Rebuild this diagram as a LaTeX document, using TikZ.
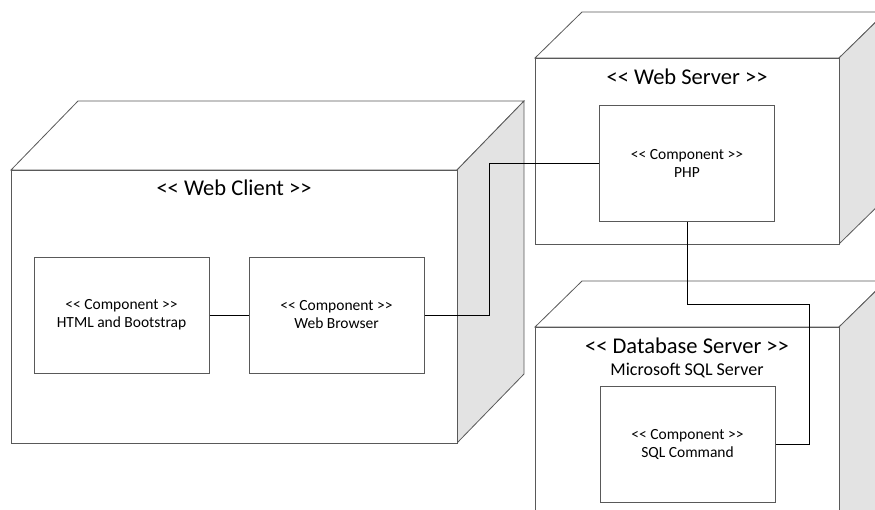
\documentclass[tikz,border=0pt]{standalone}
\usepackage{fontspec}
\setmainfont{Carlito}
\usetikzlibrary{positioning}
% stereotype brackets, kept apart so they stay two signs
\newcommand\stereo[1]{<\kern0pt< #1 >\kern0pt>}
\tikzset{
  face/.style={draw=black!65, line width=0.8pt, fill=white},
  sideface/.style={draw=black!65, line width=0.8pt, fill=black!11},
  comp/.style={draw=black!65, line width=1pt, fill=white, inner sep=0pt,
    minimum width=175pt, minimum height=116pt, align=center,
    font=\fontsize{15.5}{18}\selectfont},
  title/.style={font=\fontsize{22.5}{24}\selectfont},
  link/.style={draw=black, line width=0.8pt},
}

\begin{document}
\begin{tikzpicture}[x=1pt,y=-1pt]
  \useasboundingbox (0,0) rectangle (875,509);
  \clip (0,0) rectangle (875,509);

  % web client
  \draw[face] (78,101) -- (524,101) -- (457,170) -- (11,170) -- cycle;
  \draw[sideface] (457,170) -- (524,101) -- (524,374) -- (457,443) -- cycle;
  \draw[face] (11,170) rectangle (457,443);
  \node[title] (client) at (234,188) {\stereo{Web Client}};

  % web server
  \draw[face] (582,12) -- (886,12) -- (839,58) -- (535,58) -- cycle;
  \draw[sideface] (839,58) -- (886,12) -- (886,198) -- (839,244) -- cycle;
  \draw[face] (535,58) rectangle (839,244);
  \node[title] (server) at (687,77) {\stereo{Web Server}};

  % database server
  \draw[face] (582,281) -- (886,281) -- (839,327) -- (535,327) -- cycle;
  \draw[sideface] (839,327) -- (886,281) -- (886,540) -- (839,586) -- cycle;
  \draw[face] (535,327) rectangle (839,560);
  \node[title] (db) at (687,346) {\stereo{Database Server}};
  \node[font=\fontsize{18}{20}\selectfont] (dbname) at (687,370) {Microsoft SQL Server};

  % components
  \node[comp] (html) at (121.5,315) {\stereo{Component}\\HTML and Bootstrap};
  \node[comp] (browser) at (336.5,315) {\stereo{Component}\\Web Browser};
  \node[comp] (php) at (687,163) {\stereo{Component}\\PHP};
  \node[comp] (sql) at (687.5,444) {\stereo{Component}\\SQL Command};

  % links
  \draw[link] (html) -- (browser);
  \draw[link] (browser.east) -- ++(65,0) |- (php.west);
  \draw[link] (php.south) |- (809,304) |- (sql.east);
\end{tikzpicture}
\end{document}
